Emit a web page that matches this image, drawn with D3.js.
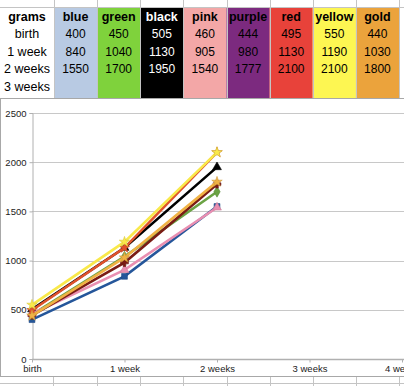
<!DOCTYPE html>
<html>
<head>
<meta charset="utf-8">
<script src="https://cdn.jsdelivr.net/npm/d3@7"></script>
<style>
  body { margin: 0; background: #fff; }
  svg { display: block; font-family: "Liberation Sans", Arial, sans-serif; }
</style>
</head>
<body>
<svg id="sheet" width="404" height="386"></svg>
<script>
// table / chart data
const rowLabels = ['birth', '1 week', '2 weeks', '3 weeks', '4 weeks'];
const categories = ['birth', '1 week', '2 weeks', '3 weeks', '4 weeks'];
const seriesNames = ['blue', 'green', 'black', 'pink', 'purple', 'red', 'yellow', 'gold'];
const birth = [400, 450, 505, 460, 444, 495, 550, 440];
const week1 = [840, 1040, 1130, 905, 980, 1130, 1190, 1030];
const week2 = [1550, 1700, 1950, 1540, 1777, 2100, 2100, 1800];
const yTicks = [0, 500, 1000, 1500, 2000, 2500];

const cellFill = ['#b8cae3', '#7fd23c', '#000000', '#f3a7a7', '#7c2a7f', '#e8423a', '#fdf652', '#eba33c'];
const headText = ['#000', '#000', '#fff', '#000', '#000', '#000', '#000', '#000'];
const lineColor = ['#25569a', '#6ba344', '#000000', '#e98fb1', '#7a1c14', '#e0532c', '#f9e94a', '#f0b244'];
const markerType = [d3.symbolSquare, d3.symbolDiamond, d3.symbolTriangle, d3.symbolTriangle, d3.symbolCross, d3.symbolStar, d3.symbolStar, d3.symbolStar];

const svg = d3.select('#sheet');

// ---- spreadsheet table ----
const firstColW = 54;
const colX = d3.scaleBand().domain(seriesNames).range([firstColW, 399]);
const rowY = d3.scaleBand().domain(['head', ...rowLabels]).range([7.5, 112.5]);
const labelX = firstColW / 2;

svg.append('defs').append('clipPath').attr('id', 'tableClip')
    .append('rect').attr('x', 0).attr('y', 0).attr('width', 404).attr('height', 98);

const table = svg.append('g').attr('clip-path', 'url(#tableClip)');

seriesNames.forEach((name, i) => {
    table.append('rect')
        .attr('x', colX(name)).attr('y', rowY('head'))
        .attr('width', colX.bandwidth()).attr('height', 98 - rowY('head'))
        .attr('fill', cellFill[i]);
});

// grid lines
table.selectAll('line.v')
    .data([...seriesNames.map(n => colX(n)), 399, 404])
    .enter().append('line')
    .attr('x1', d => Math.round(d) + 0.5).attr('x2', d => Math.round(d) + 0.5)
    .attr('y1', 0).attr('y2', 98)
    .attr('stroke', '#c4c4c4');
table.append('line')
    .attr('x1', 0).attr('x2', 404).attr('y1', 7.5).attr('y2', 7.5)
    .attr('stroke', '#c4c4c4');

// header texts
table.append('text')
    .attr('x', labelX)
    .attr('y', rowY('head') + 13)
    .attr('text-anchor', 'middle')
    .attr('font-size', 12.5).attr('font-weight', 'bold')
    .text('grams');
seriesNames.forEach((name, i) => {
    table.append('text')
        .attr('x', colX(name) + colX.bandwidth() / 2)
        .attr('y', rowY('head') + 13)
        .attr('text-anchor', 'middle')
        .attr('font-size', 12.5).attr('font-weight', 'bold')
        .attr('fill', headText[i])
        .text(name);
});

// row labels and values
const rowValues = [birth, week1, week2];
rowLabels.forEach((lab, r) => {
    table.append('text')
        .attr('x', labelX)
        .attr('y', rowY(lab) + 13)
        .attr('text-anchor', 'middle')
        .attr('font-size', 12.5)
        .text(lab);
    if (rowValues[r]) {
        seriesNames.forEach((name, i) => {
            table.append('text')
                .attr('x', colX(name) + colX.bandwidth() / 2)
                .attr('y', rowY(lab) + 13)
                .attr('text-anchor', 'middle')
                .attr('font-size', 12)
                .attr('fill', headText[i])
                .text(rowValues[r][i]);
        });
    }
});

// grid below the chart
const below = svg.append('g');
below.selectAll('line')
    .data([firstColW - 1, ...seriesNames.slice(1).map(n => colX(n)), 399])
    .enter().append('line')
    .attr('x1', d => Math.round(d) + 0.5).attr('x2', d => Math.round(d) + 0.5)
    .attr('y1', 377).attr('y2', 386)
    .attr('stroke', '#c4c4c4');
below.append('line')
    .attr('x1', 0).attr('x2', 404).attr('y1', 383.5).attr('y2', 383.5)
    .attr('stroke', '#c4c4c4');

// ---- chart ----
const chart = svg.append('g');
chart.append('rect')
    .attr('x', 0.5).attr('y', 98.5).attr('width', 410).attr('height', 278)
    .attr('fill', '#fff').attr('stroke', '#a8a8a8');

const x = d3.scalePoint().domain(categories).range([32, 402]);
const y = d3.scaleLinear().domain([0, 2500]).range([359, 113]);

// horizontal gridlines
chart.selectAll('line.grid')
    .data(yTicks.filter(t => t > 0))
    .enter().append('line')
    .attr('x1', 32).attr('x2', 404)
    .attr('y1', d => Math.round(y(d)) + 0.5).attr('y2', d => Math.round(y(d)) + 0.5)
    .attr('stroke', '#c8c8c8').attr('stroke-width', 1);

// y axis
const yAxis = chart.append('g')
    .attr('transform', 'translate(32.5,0)')
    .call(d3.axisLeft(y).tickValues(yTicks).tickFormat(d3.format('d')).tickSize(3).tickPadding(3));
yAxis.select('.domain').attr('stroke', '#b0b0b0');
yAxis.selectAll('.tick line').attr('stroke', '#b0b0b0');
yAxis.selectAll('text').attr('font-size', 9.5).attr('fill', '#222').attr('font-family', '"Liberation Sans", Arial, sans-serif');

// x axis
const xAxis = chart.append('g')
    .attr('transform', 'translate(0,359.5)')
    .call(d3.axisBottom(x).tickSize(3).tickPadding(3));
xAxis.select('.domain').attr('d', 'M32,0H404').attr('stroke', '#b0b0b0').attr('stroke-width', 1.5);
xAxis.selectAll('.tick line').attr('stroke', '#b0b0b0');
xAxis.selectAll('text').attr('font-size', 9.5).attr('fill', '#222').attr('font-family', '"Liberation Sans", Arial, sans-serif');

// series lines
const series = seriesNames.map((name, i) => ({
    name, i,
    values: [birth[i], week1[i], week2[i]].map((v, k) => ({ cat: categories[k], v }))
}));

const line = d3.line().x(d => x(d.cat)).y(d => y(d.v));

const groups = chart.selectAll('g.series')
    .data(series)
    .enter().append('g')
    .attr('class', 'series');

groups.append('path')
    .attr('d', d => line(d.values))
    .attr('fill', 'none')
    .attr('stroke', d => lineColor[d.i])
    .attr('stroke-width', 2.6);

groups.selectAll('path.mark')
    .data(d => d.values.map(p => ({ ...p, i: d.i })))
    .enter().append('path')
    .attr('class', 'mark')
    .attr('transform', d => `translate(${x(d.cat)},${y(d.v)})`)
    .attr('d', d => d3.symbol().type(markerType[d.i]).size(34)())
    .attr('fill', d => lineColor[d.i])
    .attr('stroke', d => d3.color(lineColor[d.i]).darker(0.4))
    .attr('stroke-width', 0.6);
</script>
</body>
</html>
